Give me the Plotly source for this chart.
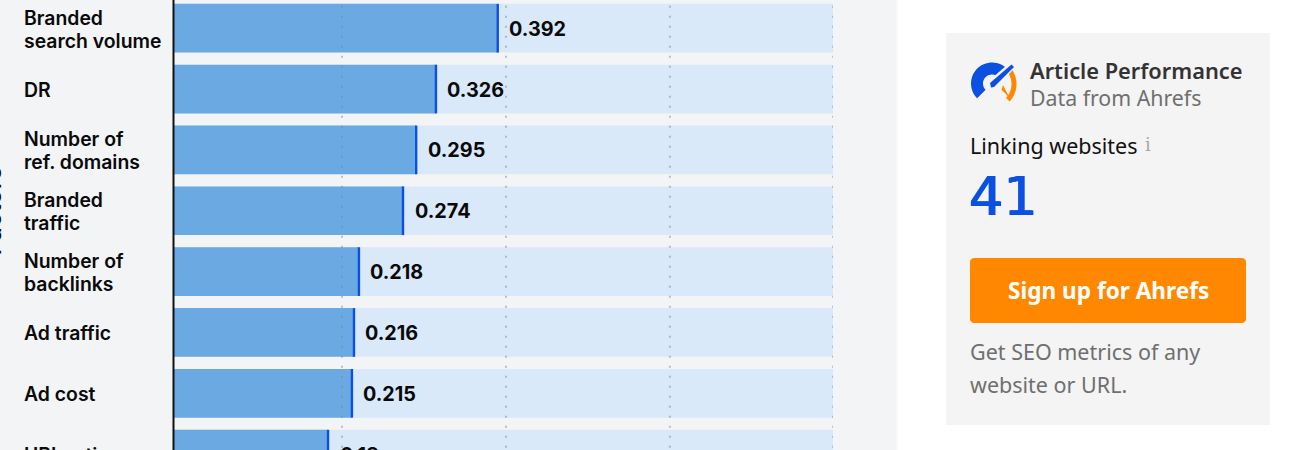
import math
import plotly.graph_objects as go

factors = [["Branded", "search volume"], ["DR"], ["Number of", "ref. domains"], ["Branded", "traffic"],
           ["Number of", "backlinks"], ["Ad traffic"], ["Ad cost"], ["URL rating"]]
bar_lengths = [0.393, 0.318, 0.294, 0.278, 0.2245, 0.2185, 0.216, 0.187]
value_labels = ["0.392", "0.326", "0.295", "0.274", "0.218", "0.216", "0.215", "0.18"]
track_max = 0.8
grid_values = [0.2039, 0.403, 0.602, 0.8]

W, H = 1315, 490  # taller than the 450 px window, which crops the last row as in the reference
L, R = 174, 833
SANS = "Inter, Roboto, sans-serif"
PLEX = "Noto Sans, Roboto, sans-serif"
BLUE = "#0b50e0"

def px(x): return (x - L) / (R - L)
def py(y): return 1 - y / H

ids = list(range(len(factors)))
fig = go.Figure()
fig.add_bar(y=ids, x=[track_max] * len(ids), orientation="h", width=0.8,
            marker=dict(color="#d9e9fa", line_width=0), hoverinfo="skip")
fig.add_bar(y=ids, x=bar_lengths, orientation="h", width=0.8,
            marker=dict(color="#6ba9e2", line_width=0), hoverinfo="skip")

shapes = []
def rect(x0, y0, x1, y1, color, layer="below"):
    shapes.append(dict(type="rect", xref="paper", yref="paper", x0=px(x0), x1=px(x1), y0=py(y0), y1=py(y1),
                       fillcolor=color, line_width=0, layer=layer))
def poly(pts, color):
    d = "M" + "L".join(f"{px(x):.5f},{py(y):.5f}" for x, y in pts) + "Z"
    shapes.append(dict(type="path", xref="paper", yref="paper", path=d, fillcolor=color, line_width=0, layer="above"))
def sector(cx, cy, r0, r1, a0, a1, color):
    n = 30
    outer = [(cx + r1 * math.cos(math.radians(a0 + (a1 - a0) * i / n)), cy - r1 * math.sin(math.radians(a0 + (a1 - a0) * i / n))) for i in range(n + 1)]
    inner = [(cx + r0 * math.cos(math.radians(a1 - (a1 - a0) * i / n)), cy - r0 * math.sin(math.radians(a1 - (a1 - a0) * i / n))) for i in range(n + 1)]
    poly(outer + inner, color)

rect(0, 0, 895.5, H, "#f3f4f6")
for i in range(3):
    rect(895.5 + i, 0, 896.5 + i, H, f"rgba(0,0,0,{0.035 - i * 0.011:.3f})")
rect(946, 33, 1270, 425, "#f4f4f4")
shapes.append(dict(type="rect", xref="paper", yref="paper", x0=px(172.5), x1=px(174.5), y0=0, y1=1,
                   fillcolor="#111111", line_width=0, layer="above"))
for g in grid_values:
    shapes.append(dict(type="line", xref="x", yref="paper", x0=g, x1=g, y0=py(5.7), y1=0,
                       line=dict(color="rgba(125,135,150,0.5)", width=2, dash="2px,8px"), layer="above"))
for i, v in zip(ids, bar_lengths):
    shapes.append(dict(type="line", xref="x", yref="y", x0=v, x1=v, y0=i - 0.4, y1=i + 0.4,
                       line=dict(color=BLUE, width=2.4), layer="above"))
# button with rounded corners
bx0, by0, bx1, by1, r = 970, 258, 1246, 323, 4
corner = []
for cx, cy, a in [(bx1 - r, by0 + r, 90), (bx0 + r, by0 + r, 180), (bx0 + r, by1 - r, 270), (bx1 - r, by1 - r, 360)]:
    for k in range(7):
        t = math.radians(a - 90 + k * 15)
        corner.append((cx + r * math.cos(t), cy - r * math.sin(t)))
poly(corner, "#ff8800")
# gauge icon
sector(992, 83.5, 9, 21, 48, 225, BLUE)
sector(991, 84, 20.5, 25.5, -43, 42, "#ff8800")
poly([(1003, 85), (1010.5, 99.5), (1005, 93), (1001.5, 90)], "#ff8800")
poly([(987.5, 82), (1011, 61.5), (1016, 66.5), (994.5, 89.5)], "#f4f4f4")
poly([(990, 83), (1011.5, 64.5), (1014, 67), (994, 87), (991, 87.5)], BLUE)

ann = []
def text(x, y, s, size, color, family=PLEX, weight=400, anchor="left", angle=0, shadow=None):
    font = dict(family=family, size=size, color=color, weight=weight)
    if shadow:
        font["shadow"] = shadow
    ann.append(dict(xref="paper", yref="paper", x=px(x), y=py(y), text=s, showarrow=False, xanchor=anchor, yanchor="middle",
                    align=anchor, textangle=angle, font=font))
for i, lines in zip(ids, factors):
    for j, line in enumerate(lines):
        shift = (len(lines) - 1) * 11.5 - j * 23
        ann.append(dict(xref="paper", yref="y", x=px(22), y=i, yshift=shift - 1, text=line, showarrow=False,
                        xanchor="left", yanchor="middle", align="left",
                        font=dict(family=SANS, size=19.4, color="#0a0a0a", weight=600)))
for i, v, lab in zip(ids, bar_lengths, value_labels):
    ann.append(dict(xref="x", yref="y", x=v, y=i, xshift=9.5, yshift=-0.5, text=lab, showarrow=False, xanchor="left", yanchor="middle",
                    font=dict(family=SANS, size=19.8, color="#0a0a0a", weight=700)))
text(-8, 210.5, "Factors", 25, "#0a0a0a", SANS, 500, "center", -90)
text(1028, 70.5, "Article Performance", 21.8, "#333333", PLEX, 600)
text(1028, 98, "Data from Ahrefs", 21.3, "#6f6f6f")
text(968, 145, "Linking websites", 21.5, "#111111")
text(1143, 144, "i", 18, "#a8a8a8", "DejaVu Serif, serif")
text(967, 197, "41", 54, BLUE, "DejaVu Sans, sans-serif", 400, shadow="0.7px 0 0 #0b50e0, -0.7px 0 0 #0b50e0")
text(1108, 290, "Sign up for Ahrefs", 22.6, "#ffffff", PLEX, 700, "center")
text(968, 351, "Get SEO metrics of any", 21.5, "#6f6f6f")
text(968, 384, "website or URL.", 21.5, "#6f6f6f")

fig.update_layout(width=W, height=H, margin=dict(l=L, r=W - R, t=0, b=0, autoexpand=False),
                  barmode="overlay", showlegend=False, paper_bgcolor="#ffffff", plot_bgcolor="rgba(0,0,0,0)",
                  shapes=shapes, annotations=ann,
                  xaxis=dict(range=[0, track_max], visible=False),
                  yaxis=dict(range=[(H - 28.2) / 60.85, -0.4634], visible=False))
fig.write_html("out.html", config=dict(displayModeBar=False),
               post_script="document.documentElement.style.overflow='hidden';document.body.style.margin='0';document.body.style.overflow='hidden';")
